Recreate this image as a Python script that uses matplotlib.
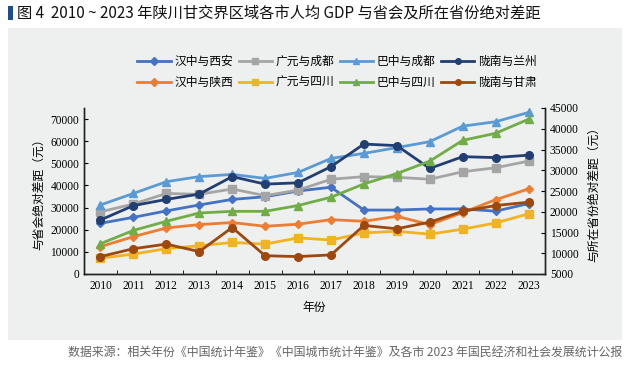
import numpy as np
import matplotlib
matplotlib.use("Agg")
import matplotlib.pyplot as plt
from matplotlib.patches import Rectangle
from matplotlib.lines import Line2D

plt.rcParams['font.family'] = ['Noto Sans CJK SC', 'DejaVu Sans']

years = [str(y) for y in range(2010, 2024)]

# gap to provincial capital (left axis)
hz_xa = [22900, 25600, 28500, 31200, 33700, 34900, 37500, 39200, 28900, 28900, 29400, 29400, 28400, 31800]
gy_cd = [28100, 31600, 36400, 36000, 38400, 35400, 37900, 42800, 44000, 43700, 42800, 46200, 48000, 51000]
bz_cd = [31200, 36400, 41700, 44000, 45000, 43200, 45900, 52200, 54500, 57100, 59800, 66800, 68800, 73000]
ln_lz = [24400, 30900, 33700, 36100, 44000, 40600, 41200, 48500, 58700, 58000, 47700, 53000, 52600, 53700]

# gap to province (right axis)
hz_sx = [11600, 14000, 16100, 16900, 17400, 16500, 17000, 18100, 17700, 18900, 16900, 19800, 22900, 25500]
gy_sc = [8800, 9800, 11100, 11800, 12600, 12200, 13700, 13200, 14900, 15300, 14600, 15800, 17300, 19500]
bz_sc = [12300, 15500, 17700, 19700, 20100, 20100, 21500, 23500, 26700, 29200, 32200, 37200, 38900, 42300]
ln_gs = [9200, 11100, 12200, 10400, 16200, 9400, 9200, 9600, 16700, 15900, 17500, 20100, 21500, 22300]

left_series = [("汉中与西安", hz_xa, "#4472C4", "D"),
               ("广元与成都", gy_cd, "#A5A5A5", "s"),
               ("巴中与成都", bz_cd, "#5B9BD5", "^"),
               ("陇南与兰州", ln_lz, "#223F73", "o")]
right_series = [("汉中与陕西", hz_sx, "#ED7D31", "D"),
                ("广元与四川", gy_sc, "#F0B323", "s"),
                ("巴中与四川", bz_sc, "#70AD47", "^"),
                ("陇南与甘肃", ln_gs, "#9E480E", "o")]

bg = "#eef0ef"
fig = plt.figure(figsize=(6.31, 3.67), dpi=100)
fig.patches.append(Rectangle((8/631, 1-340/367), 614/631, 312/367, transform=fig.transFigure,
                             facecolor=bg, edgecolor="none", zorder=-10))
fig.patches.append(Rectangle((8/631, 1-20/367), 5/631, 14/367, transform=fig.transFigure,
                             facecolor="#1f4e8c", edgecolor="none", zorder=-10))
fig.text(17/631, 1-13/367, "图 4  2010 ~ 2023 年陕川甘交界区域各市人均 GDP 与省会及所在省份绝对差距",
         fontsize=11, va="center", ha="left", color="#111111", weight="medium")
fig.text(622/631, 1-352/367,
         "数据来源：相关年份《中国统计年鉴》《中国城市统计年鉴》及各市 2023 年国民经济和社会发展统计公报",
         fontsize=8.6, va="center", ha="right", color="#666666")

ax = fig.add_axes([84/631, 1-274/367, 461/631, 166/367])
ax.set_facecolor(bg)
ax2 = ax.twinx()

x = np.arange(len(years))
for name, vals, c, m in left_series:
    ax.plot(x, vals, color=c, marker=m, lw=2, ms=5.5 if m != "D" else 4.5, label=name)
for name, vals, c, m in right_series:
    ax2.plot(x, vals, color=c, marker=m, lw=2, ms=5.5 if m != "D" else 4.5, label=name)

ax.set_xlim(-0.5, len(years)-0.5)
ax.set_ylim(0, 75000)
ax.set_yticks(range(0, 70001, 10000))
ax2.set_ylim(5000, 45000)
ax2.set_yticks(range(5000, 45001, 5000))
ax.set_xticks(x)
ax.set_xticklabels(years)
ax.set_xticks(np.arange(-0.5, len(years), 1), minor=True)
ax.tick_params(axis="x", which="major", length=0, pad=4)
ax.tick_params(axis="x", which="minor", direction="in", length=3)
ax.tick_params(axis="y", direction="in", length=3)
ax2.tick_params(axis="y", direction="in", length=3)

serif = "Liberation Serif"
for lab in ax.get_xticklabels() + ax.get_yticklabels() + ax2.get_yticklabels():
    lab.set_family(serif)
    lab.set_fontsize(8.3)

for a in (ax, ax2):
    a.spines["top"].set_visible(False)
    for s in ("left", "right", "bottom"):
        a.spines[s].set_color("#222222")
        a.spines[s].set_linewidth(1.0)

ax.set_ylabel("与省会绝对差距（元）", fontsize=8.5, labelpad=4)
ax2.set_ylabel("与所在省份绝对差距（元）", fontsize=8.5, labelpad=6)
ax.set_xlabel("年份", fontsize=8.5, labelpad=7)

handles = []
labels = []
for (n1, _, c1, m1), (n2, _, c2, m2) in zip(left_series, right_series):
    handles.append(Line2D([], [], color=c1, marker=m1, lw=2, ms=4))
    labels.append(n1)
    handles.append(Line2D([], [], color=c2, marker=m2, lw=2, ms=4))
    labels.append(n2)
fig.legend(handles, labels, ncol=4, loc="center", bbox_to_anchor=(337/631, 1-72/367),
           frameon=False, fontsize=8.5, handlelength=2.8, handletextpad=0.3,
           columnspacing=0.5, labelspacing=0.7)

fig.savefig("out.png", dpi=100, facecolor="white")
